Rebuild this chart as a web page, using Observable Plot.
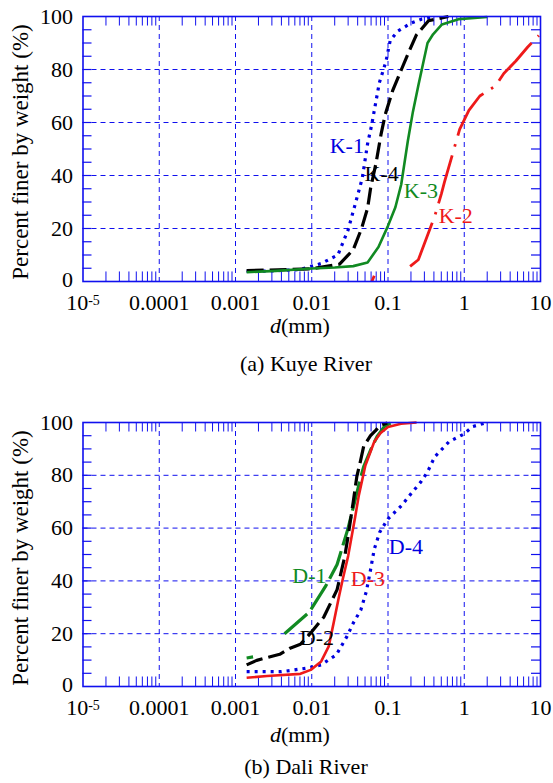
<!DOCTYPE html>
<html>
<head>
<meta charset="utf-8">
<script src="https://cdn.jsdelivr.net/npm/d3@7"></script>
<script src="https://cdn.jsdelivr.net/npm/@observablehq/plot@0.6"></script>
<style>
  html, body { margin: 0; padding: 0; background: #fff; }
  #wrap { position: relative; width: 553px; height: 783px; font-family: "Liberation Serif", "Times New Roman", serif; color: #000; overflow: hidden; }
  .xlab { font-size: 22px; line-height: 22px; width: 200px; text-align: center; }
  .cap { font-size: 22px; line-height: 22px; width: 300px; text-align: center; }
  .ylab { font-size: 23px; line-height: 24px; width: 320px; text-align: center; transform: rotate(-90deg); white-space: nowrap; }
</style>
</head>
<body>
<div id="wrap"></div>
<script>
// ---------- axis / tick values ----------
const xMajor = [1e-5, 1e-4, 1e-3, 1e-2, 1e-1, 1, 10];
const xTickLabels = ["10^-5", "0.0001", "0.001", "0.01", "0.1", "1", "10"];
const yMajor = [0, 20, 40, 60, 80, 100];
const yMinor = [5, 10, 15, 20, 25, 30, 35, 40, 45, 50, 55, 60, 65, 70, 75, 80, 85, 90, 95];
const xMinor = [];
for (let e = -5; e < 1; e++) for (let k = 2; k <= 9; k++) xMinor.push(k * Math.pow(10, e));

// ---------- (a) Kuye River ----------
const K1_d = [0.0014, 0.003, 0.007, 0.0133, 0.022, 0.03, 0.037, 0.046, 0.054, 0.061, 0.077, 0.094, 0.107, 0.135, 0.2, 0.275, 0.41];
const K1_p = [3.8, 4.0, 4.5, 6.8, 10, 19.5, 29, 39, 52, 59, 75, 83, 91, 94.5, 97.5, 99, 99.8];
const K4_d = [0.0014, 0.005, 0.01, 0.023, 0.035, 0.045, 0.054, 0.059, 0.07, 0.081, 0.092, 0.115, 0.15, 0.19, 0.235, 0.34, 0.62];
const K4_p = [4.1, 4.5, 4.8, 6.5, 12, 20, 27.7, 35, 45, 55.5, 63, 72, 80, 87, 93, 98.4, 100];
const K3_d = [0.0014, 0.0034, 0.01, 0.02, 0.035, 0.054, 0.075, 0.1, 0.125, 0.149, 0.182, 0.212, 0.25, 0.30, 0.33, 0.39, 0.51, 0.84, 2.0];
const K3_p = [3.5, 4.0, 4.9, 5.3, 5.8, 7.2, 13, 21, 28, 36.6, 53, 64, 74, 84.5, 90, 93.3, 97, 99, 99.8];
const K2_d = [0.0615, 0.066, NaN, 0.195, 0.25, 0.32, 0.41, 0.5, 0.55, 0.87, 1.15, 1.6, 2.57, 3.3, 4.75, 6.8, 9.5];
const K2_p = [0, 2.2, NaN, 5.7, 8.2, 16.4, 24.6, 33, 37.5, 57.4, 64.6, 70, 73.8, 78.5, 83.2, 88.5, 92.8];
const K_labels = ["K-1", "K-4", "K-3", "K-2"];
const K_label_d = [0.0288, 0.0826, 0.27, 0.774];
const K_label_p = [51, 40.4, 34.3, 24.9];

// ---------- (b) Dali River ----------
const D1_d = [0.0014, 0.0017, NaN, 0.0044, 0.0093, 0.015, 0.0215, 0.0238, 0.03, 0.0436, 0.048, 0.06, 0.072, 0.09, 0.108];
const D1_p = [10.8, 11.2, NaN, 20, 28.2, 37.7, 46.2, 50.4, 60, 78.9, 83.3, 90, 94.7, 98.5, 99.8];
const D2_d = [0.0014, 0.0019, 0.0027, 0.0038, 0.0052, 0.0071, 0.0095, 0.0144, 0.0178, 0.0215, 0.027, 0.03, 0.035, 0.039, 0.0436, 0.048, 0.059, 0.069, 0.08, 0.098];
const D2_p = [8.2, 9.9, 11.1, 12.2, 14.5, 16, 20, 26.3, 31.8, 36.7, 49, 57, 69.9, 79.5, 85.5, 91, 95, 97, 99, 99.8];
const D3_d = [0.0014, 0.0026, 0.0071, 0.0097, 0.0133, 0.0167, 0.0194, 0.0228, 0.0255, 0.03, 0.037, 0.0415, 0.0505, 0.066, 0.08, 0.1, 0.148, 0.237];
const D3_p = [3.3, 4.0, 4.8, 6.3, 9.5, 15.2, 24.2, 34.2, 40.6, 49.4, 64, 72.5, 83.7, 92.7, 96, 98.3, 99.5, 100];
const D4_d = [0.0014, 0.004, 0.0088, 0.0133, 0.021, 0.029, 0.035, 0.044, 0.052, 0.058, 0.066, 0.078, 0.1, 0.15, 0.2, 0.27, 0.33, 0.41, 0.63, 0.97, 1.3, 2.0];
const D4_p = [5.6, 5.6, 7, 8.2, 12, 19, 24, 29, 36, 43, 52, 58.5, 63.5, 68.5, 73, 77.5, 81.3, 87, 92.7, 95.5, 98.5, 100];
const D_labels = ["D-1", "D-3", "D-4", "D-2"];
const D_label_d = [0.0093, 0.0545, 0.172, 0.0117];
const D_label_p = [41.7, 40.6, 52.8, 18.5];

// ---------- styling ----------
const AXIS_BLUE = "#1010ee";
const C_BLUE = "#0000e0", C_BLACK = "#000000", C_GREEN = "#118a22", C_RED = "#ee1a1a";
const styles = {
  dotted: {strokeWidth: 3.2, strokeDasharray: "3,5"},
  dashed: {strokeWidth: 3.2, strokeDasharray: "17,6"},
  longdash: {strokeWidth: 3.2, strokeDasharray: "30,6"},
  solid: {strokeWidth: 2.6},
  dashdot: {strokeWidth: 2.8, strokeDasharray: "50,9,2.5,9"}
};

const zip = (ds, ps) => ds.map((d, i) => ({d, p: ps[i]}));

function makeChart(series, labels, marginTop, marginBottom, height) {
  const tickLenX = 9 / 76.25; // decades
  const marks = [
    Plot.ruleX(xMajor.slice(1, -1), {stroke: AXIS_BLUE, strokeWidth: 1, strokeDasharray: "5,4"}),
    Plot.ruleY(yMajor.slice(1, -1), {stroke: AXIS_BLUE, strokeWidth: 1, strokeDasharray: "5,4"}),
    Plot.ruleX(xMinor, {y1: 0, y2: 3.6, stroke: AXIS_BLUE, strokeWidth: 1}),
    Plot.ruleX(xMinor, {y1: 96.4, y2: 100, stroke: AXIS_BLUE, strokeWidth: 1}),
    Plot.ruleY(yMinor, {x1: 1e-5, x2: Math.pow(10, -5 + tickLenX), stroke: AXIS_BLUE, strokeWidth: 1.2}),
    Plot.ruleY(yMinor, {x1: Math.pow(10, 1 - tickLenX), x2: 10, stroke: AXIS_BLUE, strokeWidth: 1.2})
  ];
  for (const s of series) {
    marks.push(Plot.line(s.data, {x: "d", y: "p", stroke: s.color, ...styles[s.style], strokeLinecap: "butt"}));
  }
  marks.push(Plot.frame({stroke: AXIS_BLUE, strokeWidth: 1.6}));
  marks.push(Plot.text(labels, {x: "d", y: "p", text: "t", fill: "c", fontSize: 22, fontFamily: "Liberation Serif"}));
  const svg = Plot.plot({
    width: 553, height,
    marginLeft: 82.5, marginRight: 13, marginTop, marginBottom,
    style: {fontFamily: "Liberation Serif", fontSize: "22px", color: "#000", background: "transparent", overflow: "visible"},
    x: {type: "log", domain: [1e-5, 10], ticks: xMajor, tickSize: 0, tickPadding: 13, label: null,
        tickFormat: d => xTickLabels[xMajor.findIndex(v => Math.abs(Math.log10(v) - Math.log10(d)) < 1e-6)]},
    y: {domain: [0, 100], ticks: yMajor, tickSize: 0, tickPadding: 10, label: null},
    marks
  });
  svg.querySelectorAll("text").forEach(t => {
    if (t.textContent === "10^-5") {
      t.textContent = "10";
      const ts = document.createElementNS("http://www.w3.org/2000/svg", "tspan");
      ts.setAttribute("dy", "-0.4em");
      ts.setAttribute("font-size", "14px");
      ts.textContent = "-5";
      t.appendChild(ts);
    } else if (t.textContent === "0") {
      const tr = t.getAttribute("transform") || "";
      t.setAttribute("transform", tr + " translate(0,-1.5)");
    }
  });
  return svg;
}

const wrap = document.getElementById("wrap");
function place(el, left, top) { el.style.position = "absolute"; el.style.left = left + "px"; el.style.top = top + "px"; wrap.appendChild(el); }
function div(cls, html, left, top) { const e = document.createElement("div"); e.className = cls; e.innerHTML = html; place(e, left, top); return e; }

const labA = K_labels.map((t, i) => ({t, d: K_label_d[i], p: K_label_p[i], c: [C_BLUE, C_BLACK, C_GREEN, C_RED][i]}));
const svgA = makeChart([
  {data: zip(K1_d, K1_p), color: C_BLUE, style: "dotted"},
  {data: zip(K4_d, K4_p), color: C_BLACK, style: "dashed"},
  {data: zip(K3_d, K3_p), color: C_GREEN, style: "solid"},
  {data: zip(K2_d, K2_p), color: C_RED, style: "dashdot"}
], labA, 16, 29, 310);
place(svgA, 0, 0);

const labB = D_labels.map((t, i) => ({t, d: D_label_d[i], p: D_label_p[i], c: [C_GREEN, C_RED, C_BLUE, C_BLACK][i]}));
const svgB = makeChart([
  {data: zip(D4_d, D4_p), color: C_BLUE, style: "dotted"},
  {data: zip(D1_d, D1_p), color: C_GREEN, style: "longdash"},
  {data: zip(D2_d, D2_p), color: C_BLACK, style: "dashed"},
  {data: zip(D3_d, D3_p), color: C_RED, style: "solid"}
], labB, 22, 24, 310);
place(svgB, 0, 400);

div("xlab", "<i>d</i>(mm)", 300 - 100, 315);
div("cap", "(a) Kuye River", 306 - 150, 353);
div("xlab", "<i>d</i>(mm)", 300 - 100, 724);
div("cap", "(b) Dali River", 306 - 150, 756);
div("ylab", "Percent finer by weight (%)", 21 - 160, 152 - 12);
div("ylab", "Percent finer by weight (%)", 21 - 160, 558 - 12);
</script>
</body>
</html>
